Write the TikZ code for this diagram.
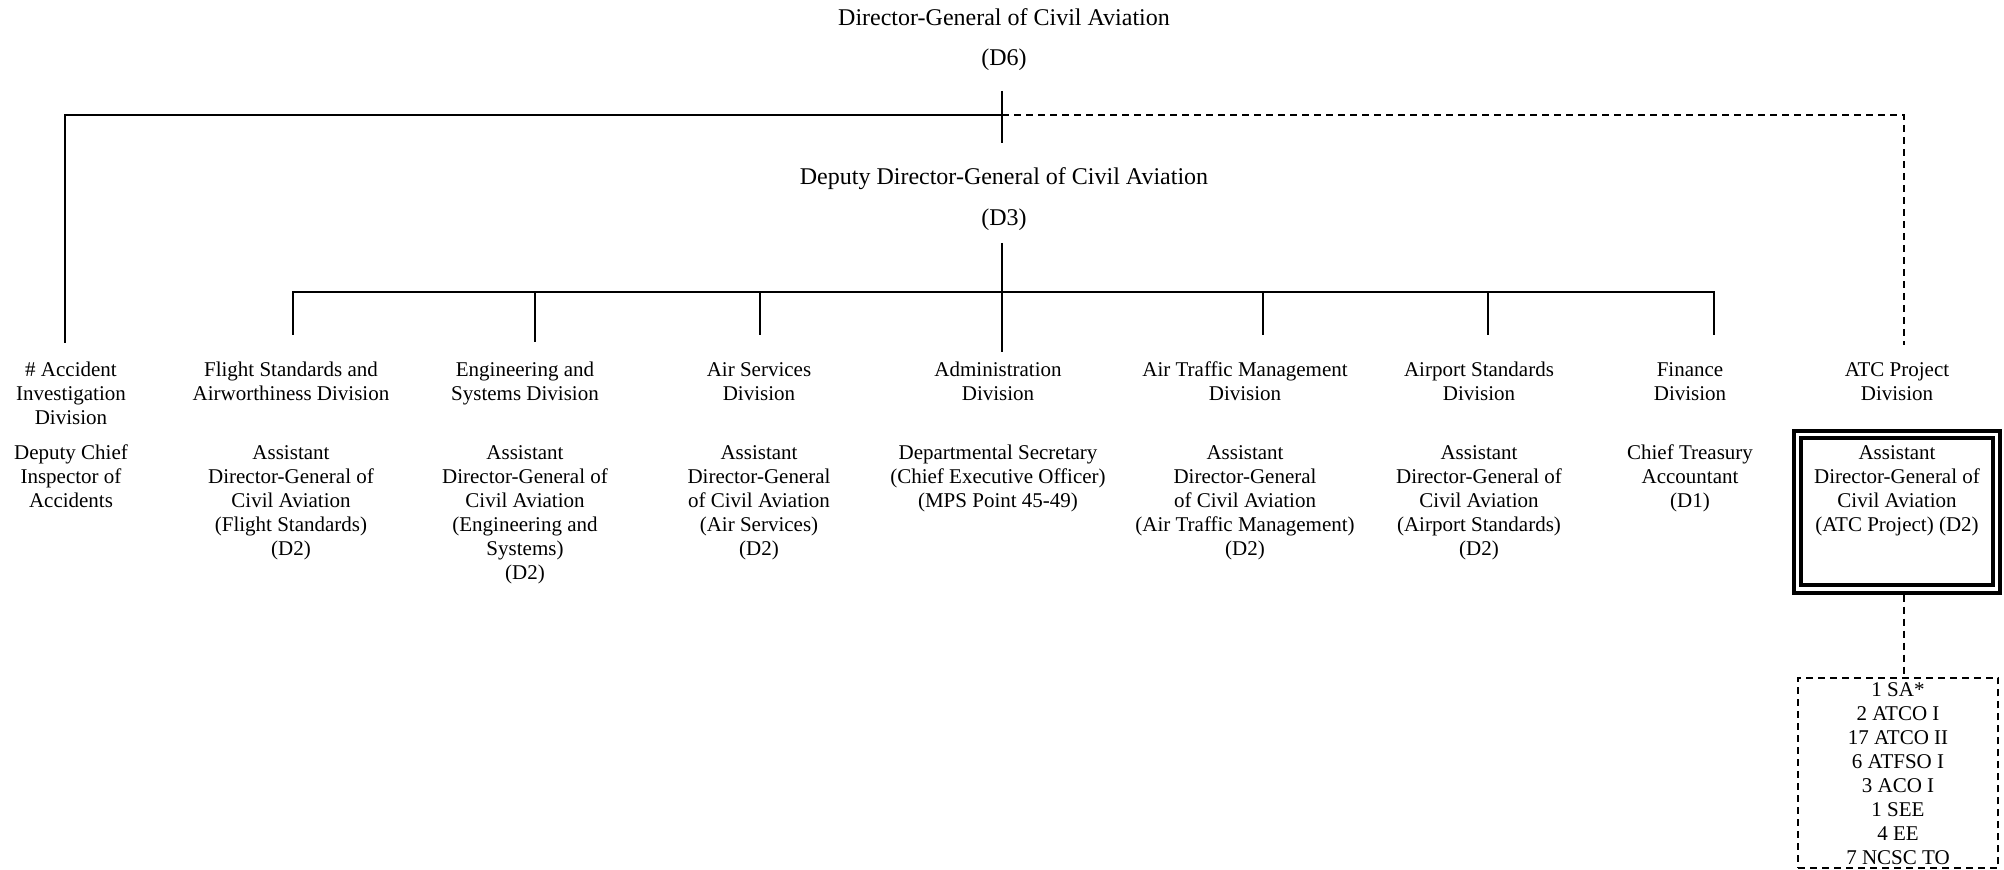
\documentclass[tikz,border=0pt]{standalone}
\usepackage{fontspec}
\setmainfont{Liberation Serif}

\begin{document}
\begin{tikzpicture}[x=0.5pt, y=-0.5pt,
    every node/.style={inner sep=0pt, align=center, anchor=base},
    toppost/.style={font=\fontsize{12}{14}\selectfont},
    orgtext/.style={font=\fontsize{10.5}{12}\selectfont},
    orgline/.style={line width=1pt},
    dashline/.style={line width=1pt, dash pattern=on 3.5pt off 2.5pt}]
    \useasboundingbox (0,0) rectangle (2004,870);

    % Director-General and Deputy
    \node[toppost] (dg) at (1004,26) {Director-General of Civil Aviation};
    \node[toppost] (dgrank) at (1004,66) {(D6)};
    \node[toppost] (ddg) at (1004,185) {Deputy Director-General of Civil Aviation};
    \node[toppost] (ddgrank) at (1004,226) {(D3)};

    % Division names (placed by their last line)
    \node[orgtext] (aid) at (71,425) {\# Accident\\Investigation\\Division};
    \node[orgtext] (fsd) at (291,401) {Flight Standards and\\Airworthiness Division};
    \node[orgtext] (esd) at (525,401) {Engineering and\\Systems Division};
    \node[orgtext] (asd) at (759,401) {Air Services\\Division};
    \node[orgtext] (adm) at (998,401) {Administration\\Division};
    \node[orgtext] (atm) at (1245,401) {Air Traffic Management\\Division};
    \node[orgtext] (aps) at (1479,401) {Airport Standards\\Division};
    \node[orgtext] (fin) at (1690,401) {Finance\\Division};
    \node[orgtext] (atc) at (1897,401) {ATC Project\\Division};

    % Division heads
    \node[orgtext] (aidhead) at (71,508) {Deputy Chief\\Inspector of\\Accidents};
    \node[orgtext] (fsdhead) at (291,556) {Assistant\\Director-General of\\Civil Aviation\\(Flight Standards)\\(D2)};
    \node[orgtext] (esdhead) at (525,580) {Assistant\\Director-General of\\Civil Aviation\\(Engineering and\\Systems)\\(D2)};
    \node[orgtext] (asdhead) at (759,556) {Assistant\\Director-General\\of Civil Aviation\\(Air Services)\\(D2)};
    \node[orgtext] (admhead) at (998,508) {Departmental Secretary\\(Chief Executive Officer)\\(MPS Point 45-49)};
    \node[orgtext] (atmhead) at (1245,556) {Assistant\\Director-General\\of Civil Aviation\\(Air Traffic Management)\\(D2)};
    \node[orgtext] (apshead) at (1479,556) {Assistant\\Director-General of\\Civil Aviation\\(Airport Standards)\\(D2)};
    \node[orgtext] (finhead) at (1690,508) {Chief Treasury\\Accountant\\(D1)};

    % ATC project head and staff
    \node[draw, double, line width=2pt, double distance=1.7pt, outer sep=2.85pt,
          minimum width=99.5pt, minimum height=77.25pt, anchor=center] (atcbox) at (1897,511.75) {};
    \node[orgtext] (atchead) at (1897,532) {Assistant\\Director-General of\\Civil Aviation\\(ATC Project) (D2)};
    \node[draw, dashline, minimum width=100pt, minimum height=95.3pt, anchor=center] (staffbox) at (1898,773) {};
    \node[orgtext] (staff) at (1898,865) {1 SA*\\2 ATCO I\\17 ATCO II\\6 ATFSO I\\3 ACO I\\1 SEE\\4 EE\\7 NCSC TO};

    % Line ends
    \coordinate (dgtick) at (1002,91);
    \coordinate (ddgtick) at (1002,143);
    \coordinate (hub) at (1002,115);
    \coordinate (ddgstem) at (1002,243);
    \coordinate (bus) at (1002,292);
    \coordinate (aidstub) at (65,343);
    \coordinate (atcstub) at (1904,345);
    \coordinate (admstub) at (1002,352);
    \coordinate (fsdstub) at (293,335);
    \coordinate (esdstub) at (535,342);
    \coordinate (asdstub) at (760,335);
    \coordinate (atmstub) at (1263,335);
    \coordinate (apsstub) at (1488,335);
    \coordinate (finstub) at (1714,335);

    % Top line
    \draw[orgline] (dgtick) -- (ddgtick);
    \draw[orgline] (aidstub) |- (hub);
    \draw[dashline] (hub) -| (atcstub);

    % Division bus
    \draw[orgline] (ddgstem) -- (admstub);
    \draw[orgline] (fsdstub) |- (bus) -| (finstub);
    \foreach \d in {esd,asd,atm,aps}
        \draw[orgline] (\d stub) -- (\d stub |- bus);

    % Staff
    \draw[dashline] (atcbox.south -| atcstub) -- (staffbox.north -| atcstub);
\end{tikzpicture}
\end{document}
